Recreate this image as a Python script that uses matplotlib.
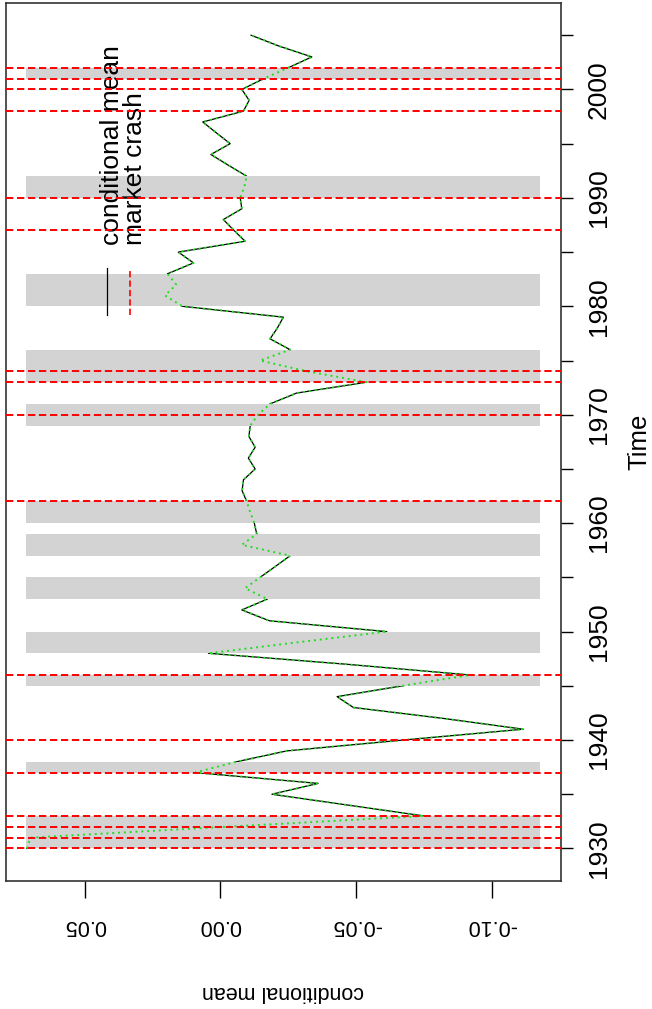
import matplotlib
matplotlib.use("Agg")
import matplotlib.pyplot as plt
import numpy as np
from matplotlib.path import Path
from matplotlib.patches import PathPatch

plt.rcParams['font.family'] = ['Liberation Sans', 'DejaVu Sans']

# Serie anual de la media condicional (1930-2005)
years = np.arange(1930, 2006)
cond_mean = [
    0.0713, 0.0700, -0.0020, -0.0750, -0.0470, -0.0190, -0.0360, 0.0093, -0.0060, -0.0245,
    -0.0674, -0.1116, -0.0820, -0.0490, -0.0430, -0.0670, -0.0920, -0.0460, 0.0044, -0.0280,
    -0.0613, -0.0180, -0.0079, -0.0173, -0.0091, -0.0146, -0.0202, -0.0257, -0.0079, -0.0134,
    -0.0125, -0.0110, -0.0097, -0.0080, -0.0085, -0.0128, -0.0103, -0.0128, -0.0105, -0.0110,
    -0.0139, -0.0183, -0.0281, -0.0539, -0.0320, -0.0146, -0.0257, -0.0183, -0.0210, -0.0232,
    0.0140, 0.0204, 0.0163, 0.0195, 0.0099, 0.0155, -0.0091, -0.0050, -0.0011, -0.0079,
    -0.0073, -0.0088, -0.0097, -0.0030, 0.0035, -0.0036, 0.0015, 0.0065, -0.0085, -0.0106,
    -0.0079, -0.0160, -0.0250, -0.0337, -0.0216, -0.0113,
]

# Años de caída del mercado
crash_years = [1930, 1931, 1932, 1933, 1937, 1940, 1946, 1962, 1970, 1973, 1974,
               1987, 1990, 1998, 2000, 2001, 2002]

# Periodos de recesión (inicio, fin)
recessions = [(1930, 1933), (1937, 1938), (1945, 1946), (1948, 1950), (1953, 1955),
              (1957, 1959), (1960, 1962), (1969, 1971), (1973, 1976), (1980, 1983),
              (1990, 1992), (2001, 2002)]

# Rango de valores usado para las bandas
band_lo, band_hi = -0.1178, 0.0716

fig = plt.figure(figsize=(6.52, 10.09), dpi=100)
ax = fig.add_axes([6 / 652, 1 - 881 / 1009, 554.7 / 652, 878.3 / 1009])

# Bandas grises de recesión
for inicio, fin in recessions:
    ax.fill_betweenx([inicio, fin], band_lo, band_hi, color='#d3d3d3', lw=0, zorder=1)

# Línea negra sólo fuera de las recesiones (recorte)
bordes = [1900] + [v for par in recessions for v in par] + [2100]
rects = []
for i in range(0, len(bordes), 2):
    y0, y1 = bordes[i], bordes[i + 1]
    rects.append(Path([(-1, y0), (1, y0), (1, y1), (-1, y1), (-1, y0)], closed=True))
clip = PathPatch(Path.make_compound_path(*rects), transform=ax.transData,
                 facecolor='none', edgecolor='none')
linea, = ax.plot(cond_mean, years, color='black', lw=0.9, zorder=2)
linea.set_clip_path(clip)

ax.plot(cond_mean, years, color='#22dd22', lw=1.4, dashes=(1, 2), zorder=3)

for y in crash_years:
    ax.axhline(y, color='red', lw=1.4, dashes=(3.75, 1.9), zorder=4)

# Ejes
ax.set_xlim(0.0790, -0.1254)
ax.set_ylim(1927.0, 2008.0)
ax.set_xticks([0.05, 0.0, -0.05, -0.10])
ax.set_xticklabels(['0.05', '0.00', '-0.05', '-0.10'])
ax.tick_params(axis='x', direction='out', length=12.2, width=1, pad=12,
               labelsize=15.5, labelrotation=180)

ax.yaxis.tick_right()
ticks_t = list(range(1930, 2006, 5))
ax.set_yticks(ticks_t)
ax.set_yticklabels([str(t) if t % 10 == 0 else '' for t in ticks_t])
ax.tick_params(axis='y', direction='out', length=8.6, width=1, pad=10,
               labelsize=19, labelrotation=90)
for lab in ax.get_yticklabels():
    lab.set_va('center')

for s in ax.spines.values():
    s.set_linewidth(1.2)
    s.set_color('#333333')

# Leyenda manual (rotada)
ax.plot([0.182, 0.182], [0.644, 0.698], transform=ax.transAxes, color='black', lw=0.9)
ax.plot([0.2235, 0.2235], [0.644, 0.698], transform=ax.transAxes, color='red', lw=1.2,
        dashes=(3.75, 1.9))
ax.text(0.191, 0.724, 'conditional mean', rotation=90, transform=ax.transAxes,
        ha='center', va='bottom', fontsize=19)
ax.text(0.2325, 0.724, 'market crash', rotation=90, transform=ax.transAxes,
        ha='center', va='bottom', fontsize=19)

# Títulos de los ejes
fig.text(283 / 652, 1 - 991.7 / 1009, 'conditional mean', rotation=180,
         ha='center', va='center', fontsize=15.5)
fig.text(639 / 652, 1 - 441.7 / 1009, 'Time', rotation=90,
         ha='center', va='center', fontsize=18.5)

fig.savefig('out.png', dpi=100)
